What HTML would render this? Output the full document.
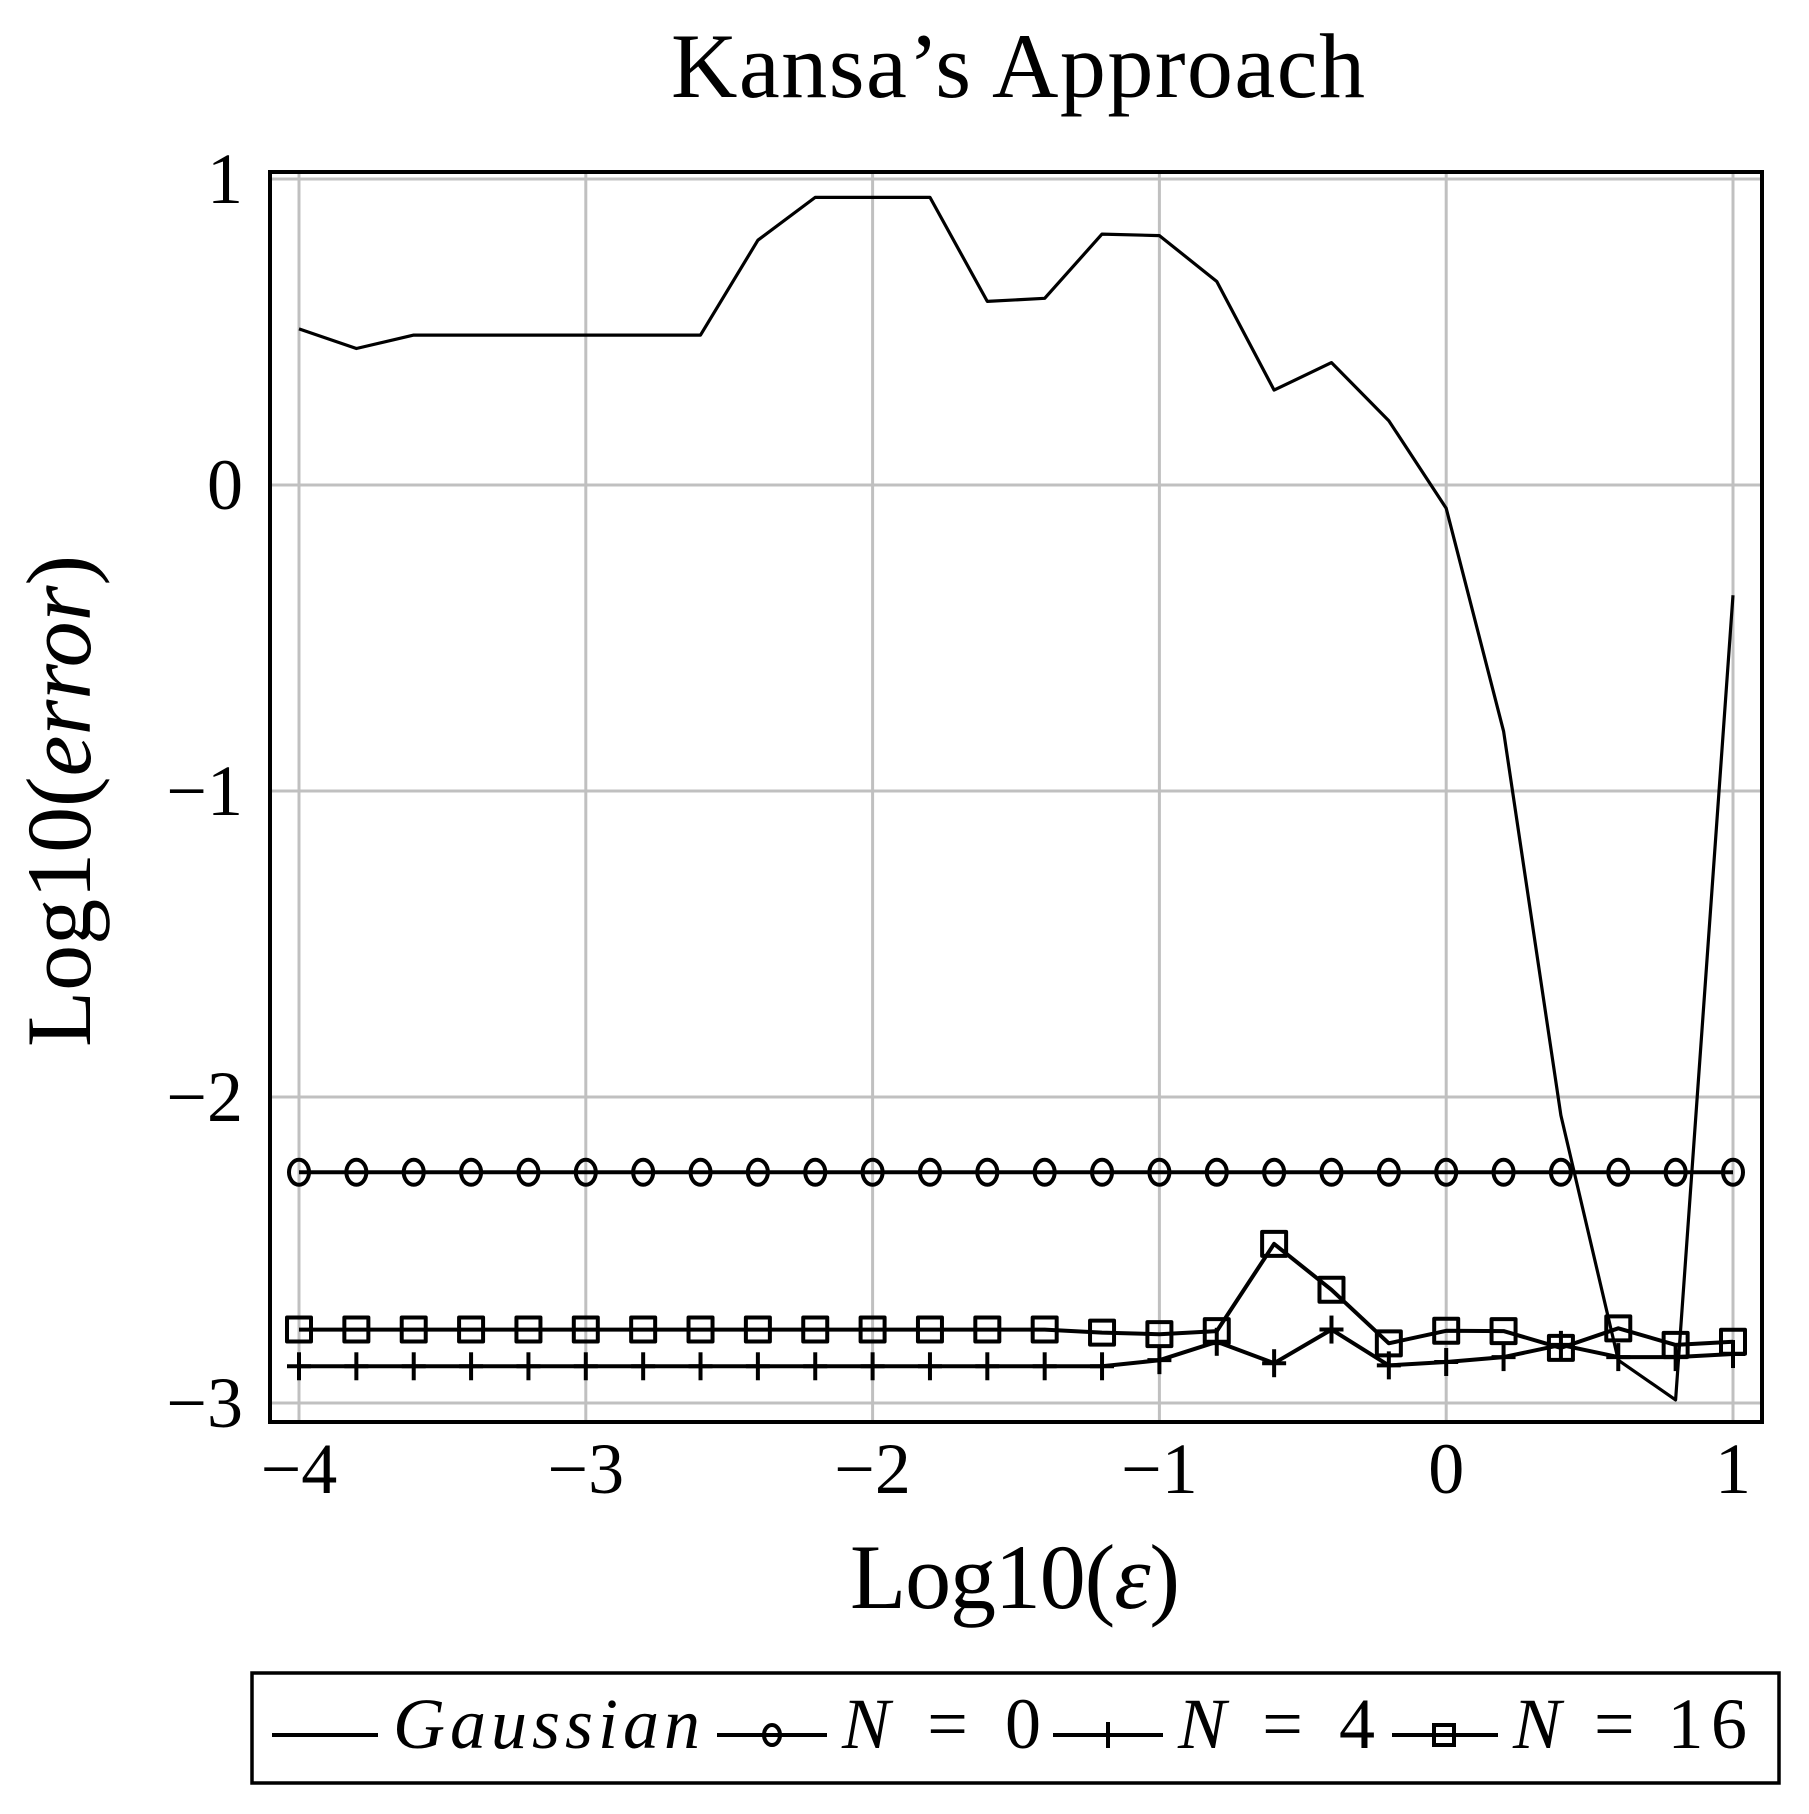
<!DOCTYPE html>
<html><head><meta charset="utf-8"><style>html,body{margin:0;padding:0;background:#fff}svg{display:block}</style></head>
<body>
<svg xmlns="http://www.w3.org/2000/svg" width="1809" height="1814" viewBox="0 0 1809 1814" font-family="'Liberation Serif', serif">
<g stroke="#c0c0c0" stroke-width="3" fill="none">
<line x1="299" y1="172" x2="299" y2="1422"/><line x1="585.8" y1="172" x2="585.8" y2="1422"/><line x1="872.6" y1="172" x2="872.6" y2="1422"/><line x1="1159.4" y1="172" x2="1159.4" y2="1422"/><line x1="1446.2" y1="172" x2="1446.2" y2="1422"/><line x1="1733" y1="172" x2="1733" y2="1422"/>
<line x1="270" y1="179" x2="1762" y2="179"/><line x1="270" y1="485" x2="1762" y2="485"/><line x1="270" y1="791" x2="1762" y2="791"/><line x1="270" y1="1097" x2="1762" y2="1097"/><line x1="270" y1="1403" x2="1762" y2="1403"/>
</g>
<rect x="270" y="172" width="1492" height="1250" fill="none" stroke="#000" stroke-width="4"/>
<g font-size="72" text-anchor="middle">
<text x="299" y="1493">−4</text><text x="585.8" y="1493">−3</text><text x="872.6" y="1493">−2</text><text x="1159.4" y="1493">−1</text><text x="1446.2" y="1493">0</text><text x="1733" y="1493">1</text>
</g>
<g font-size="72" text-anchor="end">
<text x="243" y="203">1</text><text x="243" y="509">0</text><text x="243" y="815">−1</text><text x="243" y="1121">−2</text><text x="243" y="1427">−3</text>
</g>
<text x="671" y="97" font-size="92" textLength="694" lengthAdjust="spacing">Kansa’s Approach</text>
<text x="850" y="1608" font-size="92" textLength="330">Log10(<tspan font-style="italic">ε</tspan>)</text>
<text transform="translate(90,1047) rotate(-90)" font-size="92" textLength="492">Log10(<tspan font-style="italic">error</tspan>)</text>
<g fill="none" stroke="#000" stroke-width="4" stroke-linejoin="round" id="series"></g>
<rect x="252" y="1673" width="1527" height="110" fill="none" stroke="#000" stroke-width="3.5"/>
<g stroke="#000" stroke-width="4" fill="none">
<line x1="272" y1="1735" x2="378" y2="1735"/>
<line x1="717" y1="1735" x2="827" y2="1735"/><ellipse cx="772" cy="1735" rx="8" ry="10"/>
<line x1="1053" y1="1735" x2="1163" y2="1735"/><line x1="1108" y1="1722" x2="1108" y2="1748"/>
<line x1="1392" y1="1735" x2="1498" y2="1735"/><rect x="1434" y="1725" width="20" height="20"/>
</g>
<g font-size="72" font-style="italic">
<text x="393" y="1748" textLength="307">Gaussian</text>
<text x="842" y="1748" textLength="199"><tspan>N</tspan><tspan font-style="normal"> = 0</tspan></text>
<text x="1178" y="1748" textLength="197"><tspan>N</tspan><tspan font-style="normal"> = 4</tspan></text>
<text x="1513" y="1748" textLength="234"><tspan>N</tspan><tspan font-style="normal"> = 16</tspan></text>
</g>
<script>
(function(){
var g=document.getElementById('series'),NS='http://www.w3.org/2000/svg';
function X(v){return 299+(v+4)*286.8}function Y(v){return 485-306*v}
var xs=[];for(var i=0;i<26;i++)xs.push(-4+0.2*i);
var gau=[0.51,0.446,0.49,0.49,0.49,0.49,0.49,0.49,0.80,0.94,0.94,0.94,0.60,0.61,0.82,0.815,0.665,0.31,0.40,0.21,-0.076,-0.805,-2.06,-2.86,-2.99,-0.36];
var n0=[];for(i=0;i<26;i++)n0.push(-2.246);
var n4=[];for(i=0;i<15;i++)n4.push(-2.88);n4=n4.concat([-2.86,-2.80,-2.87,-2.76,-2.877,-2.866,-2.85,-2.81,-2.85,-2.85,-2.84]);
var n16=[];for(i=0;i<14;i++)n16.push(-2.76);n16=n16.concat([-2.77,-2.775,-2.765,-2.48,-2.63,-2.805,-2.764,-2.765,-2.82,-2.756,-2.81,-2.80]);
function line(d,w){var p=document.createElementNS(NS,'polyline');p.setAttribute('points',d.map(function(v,i){return X(xs[i]).toFixed(1)+','+Y(v).toFixed(1)}).join(' '));p.setAttribute('stroke-width',w);g.appendChild(p);}
line(gau,3.2);line(n0,4);line(n4,4);line(n16,4);
function el(t,a){var e=document.createElementNS(NS,t);for(var k in a)e.setAttribute(k,a[k]);g.appendChild(e);}
for(i=0;i<26;i++){var x=X(xs[i]);
el('ellipse',{cx:x,cy:Y(n0[i]),rx:10,ry:12.5});
var y=Y(n4[i]);el('line',{x1:x-12,y1:y,x2:x+12,y2:y});el('line',{x1:x,y1:y-14,x2:x,y2:y+14});
y=Y(n16[i]);el('rect',{x:x-12,y:y-12,width:24,height:24});}
})();
</script>
</svg>
</body></html>
